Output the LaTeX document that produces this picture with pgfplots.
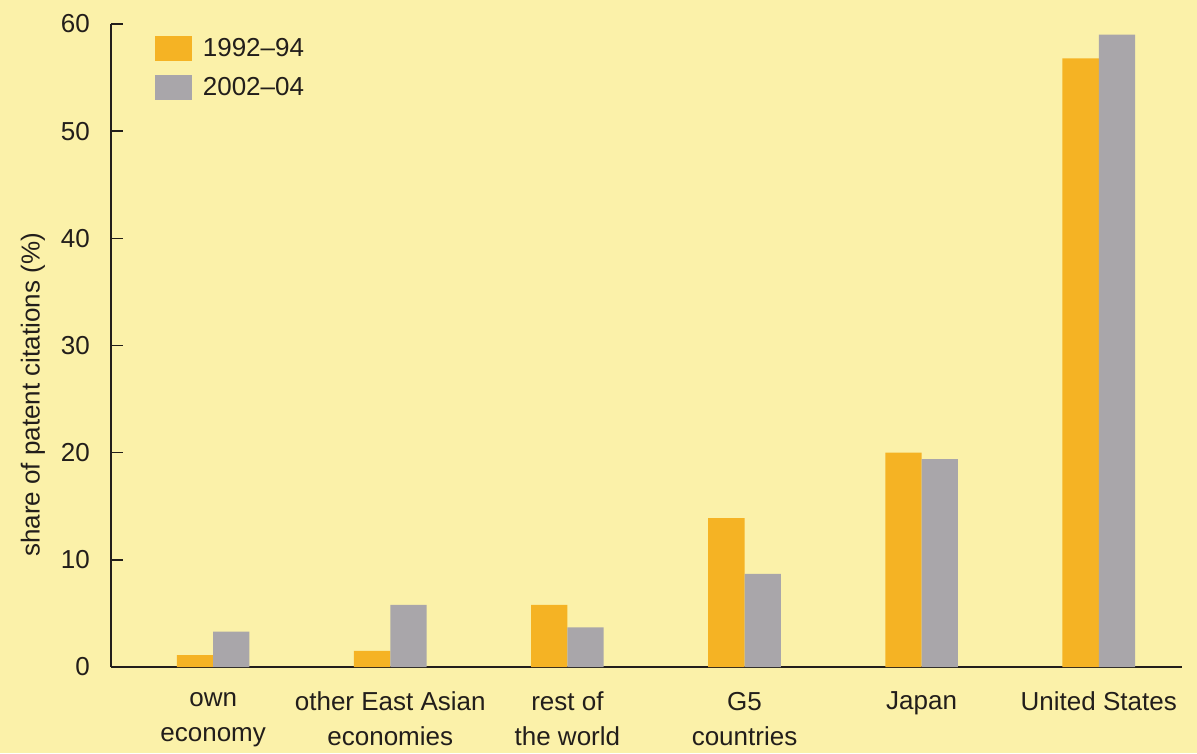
\documentclass[border=0pt]{standalone}
\usepackage{pgfplots}
\pgfplotsset{compat=1.18}
\usepackage{fontspec}
\setmainfont{Liberation Sans}
\definecolor{bgyellow}{HTML}{FBF1A9}
\definecolor{barorange}{HTML}{F5B324}
\definecolor{bargray}{HTML}{A9A6AA}
\definecolor{ink}{HTML}{221E1B}
\pagecolor{bgyellow}
\begin{document}
\begin{tikzpicture}
	\begin{axis}[
		scale only axis,
		width=535.5pt, height=321.5pt,
		ybar=0pt,
		bar width=0.205,
		xmin=-0.577, xmax=5.47,
		ymin=0, ymax=60,
		ytick={0,10,20,30,40,50,60},
		xtick={0,1,2,3,4,5},
		xticklabels={{own\\economy},{other East Asian\\economies},{rest of\\the world},{G5\\countries},{Japan},{United States}},
		axis lines*=left,
		axis line style={ink, line width=0.8pt},
		tick align=inside,
		major tick length=6pt,
		ytick style={ink, line width=0.8pt},
		xtick style={draw=none},
		/pgf/number format/assume math mode=true,
		font=\fontsize{13}{17.5}\selectfont,
		tick label style={ink, font=\fontsize{13}{17.5}\selectfont},
		xticklabel style={align=center, yshift=-9pt},
		yticklabel style={xshift=-7pt},
		ylabel={share of patent citations (\%)},
		every axis y label/.style={at={(axis description cs:-0.0728,0.423)}, rotate=90, anchor=center, ink},
		legend style={draw=none, fill=none, at={(0.035,0.99)}, anchor=north west,
			font=\fontsize{13}{17.5}\selectfont, row sep=4.5pt, text=ink},
		legend image code/.code={\fill[#1, draw=none] (0pt,-6pt) rectangle (18.5pt,6.5pt); \path (22pt,0pt);},
		clip=false,
	]
	\addplot[fill=barorange, draw=none] coordinates {
		(0,1.1) (1,1.5) (2,5.8) (3,13.9) (4,20.0) (5,56.8)
	};
	\addplot[fill=bargray, draw=none] coordinates {
		(0,3.3) (1,5.8) (2,3.7) (3,8.7) (4,19.4) (5,59.0)
	};
	\legend{1992--94, 2002--04}
	\path (rel axis cs:-0.1036,-0.1322) rectangle (rel axis cs:1.0140,1.0373);
	\end{axis}
\end{tikzpicture}
\end{document}
